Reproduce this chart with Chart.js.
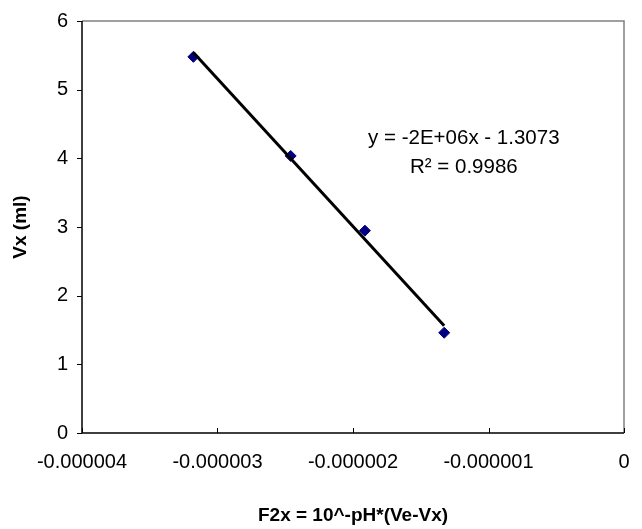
<!DOCTYPE html>
<html><head><meta charset="utf-8">
<script src="https://cdn.jsdelivr.net/npm/chart.js@4/dist/chart.umd.min.js"></script>
<style>html,body{margin:0;padding:0;background:#fff}#wrap{width:642px;height:529px;position:relative}</style>
</head><body><div id="wrap"><canvas id="c"></canvas></div>
<script>
// ---- data ----
const xValues = [-3.178e-6, -2.460e-6, -1.912e-6, -1.327e-6];
const yValues = [5.478, 4.035, 2.947, 1.460];
const xTicks = [-0.000004, -0.000003, -0.000002, -0.000001, 0];
const xTickLabels = ['-0.000004', '-0.000003', '-0.000002', '-0.000001', '0'];
const yTicks = [0, 1, 2, 3, 4, 5, 6];
const yTickLabels = ['0', '1', '2', '3', '4', '5', '6'];
const equationLines = ['y = -2E+06x - 1.3073', 'R\u00B2 = 0.9986'];
const equationAnchor = [-1.182e-6, 4.29]; // data-space centre of first equation line
const xTitle = 'F2x = 10^-pH*(Ve-Vx)';
const yTitle = 'Vx (ml)';

// least-squares trendline from the points
const n = xValues.length;
const mx = xValues.reduce((a, b) => a + b, 0) / n;
const my = yValues.reduce((a, b) => a + b, 0) / n;
let sxy = 0, sxx = 0;
for (let i = 0; i < n; i++) { sxy += (xValues[i] - mx) * (yValues[i] - my); sxx += (xValues[i] - mx) ** 2; }
const slope = sxy / sxx, icpt = my - slope * mx;
const xMin = Math.min(...xValues), xMax = Math.max(...xValues);
const trend = [{x: xMin, y: slope * xMin + icpt}, {x: xMax, y: slope * xMax + icpt}];

const FONT = '"Liberation Sans", Arial, sans-serif';

const decor = {
  id: 'decor',
  afterDatasetsDraw(chart) {
    const {ctx, chartArea: a, scales: {x, y}} = chart;
    ctx.save();
    ctx.strokeStyle = '#808080'; ctx.lineWidth = 1.5;
    ctx.beginPath();
    ctx.moveTo(a.left, a.top); ctx.lineTo(a.right, a.top); ctx.lineTo(a.right, a.bottom);
    ctx.stroke();
    ctx.strokeStyle = '#000'; ctx.lineWidth = 1.5;
    ctx.beginPath();
    ctx.moveTo(a.left, a.top); ctx.lineTo(a.left, a.bottom); ctx.lineTo(a.right, a.bottom);
    ctx.stroke();
    ctx.lineWidth = 1;
    ctx.beginPath();
    yTicks.forEach(v => { const py = Math.round(y.getPixelForValue(v)) + 0.5; ctx.moveTo(a.left - 5, py); ctx.lineTo(a.left, py); });
    xTicks.forEach(v => { const px = Math.round(x.getPixelForValue(v)) + 0.5; ctx.moveTo(px, a.bottom); ctx.lineTo(px, a.bottom - 5); });
    ctx.stroke();
    ctx.fillStyle = '#000';
    ctx.font = '20.5px ' + FONT;
    ctx.textAlign = 'center'; ctx.textBaseline = 'middle';
    const ex = x.getPixelForValue(equationAnchor[0]);
    const ey = y.getPixelForValue(equationAnchor[1]);
    equationLines.forEach((t, i) => ctx.fillText(t, ex, ey + i * 29));
    ctx.restore();
  }
};

new Chart(document.getElementById('c'), {
  type: 'scatter',
  data: {
    datasets: [
      {
        label: 'trend', type: 'line', data: trend, order: 0,
        borderColor: '#000', borderWidth: 3, pointRadius: 0, fill: false, tension: 0
      },
      {
        label: 'Vx', data: xValues.map((v, i) => ({x: v, y: yValues[i]})), order: 1,
        pointStyle: 'rectRot', pointRadius: 5.5, pointBackgroundColor: '#000080',
        pointBorderColor: '#000080', borderWidth: 1, showLine: false
      }
    ]
  },
  options: {
    responsive: true, maintainAspectRatio: false, animation: false,
    layout: {padding: {top: 21, right: 18, left: 0, bottom: 0}},
    plugins: {legend: {display: false}, tooltip: {enabled: false}},
    scales: {
      x: {
        type: 'linear', min: xTicks[0], max: xTicks[xTicks.length - 1],
        afterBuildTicks: s => { s.ticks = xTicks.map(v => ({value: v})); },
        afterFit: s => { s.height = 96; s.paddingLeft = 0; s.paddingRight = 0; },
        grid: {display: false, drawTicks: false, tickLength: 0},
        border: {display: false},
        ticks: {
          color: '#000', font: {family: FONT, size: 20}, padding: 17, maxRotation: 0, autoSkip: false,
          callback: (v, i) => xTickLabels[i]
        },
        title: {display: true, text: xTitle, color: '#000', font: {family: FONT, size: 19, weight: 'bold'}, padding: {top: 0, bottom: 2}}
      },
      y: {
        type: 'linear', min: yTicks[0], max: yTicks[yTicks.length - 1],
        afterBuildTicks: s => { s.ticks = yTicks.map(v => ({value: v})); },
        afterFit: s => { s.width = 82; s.paddingTop = 0; s.paddingBottom = 0; },
        grid: {display: false, drawTicks: false, tickLength: 0},
        border: {display: false},
        ticks: {
          color: '#000', font: {family: FONT, size: 20}, padding: 14,
          callback: (v, i) => yTickLabels[i]
        },
        title: {display: true, text: yTitle, color: '#000', font: {family: FONT, size: 19, weight: 'bold'}, padding: {top: 9, bottom: 0}}
      }
    }
  },
  plugins: [decor]
});
</script></body></html>
